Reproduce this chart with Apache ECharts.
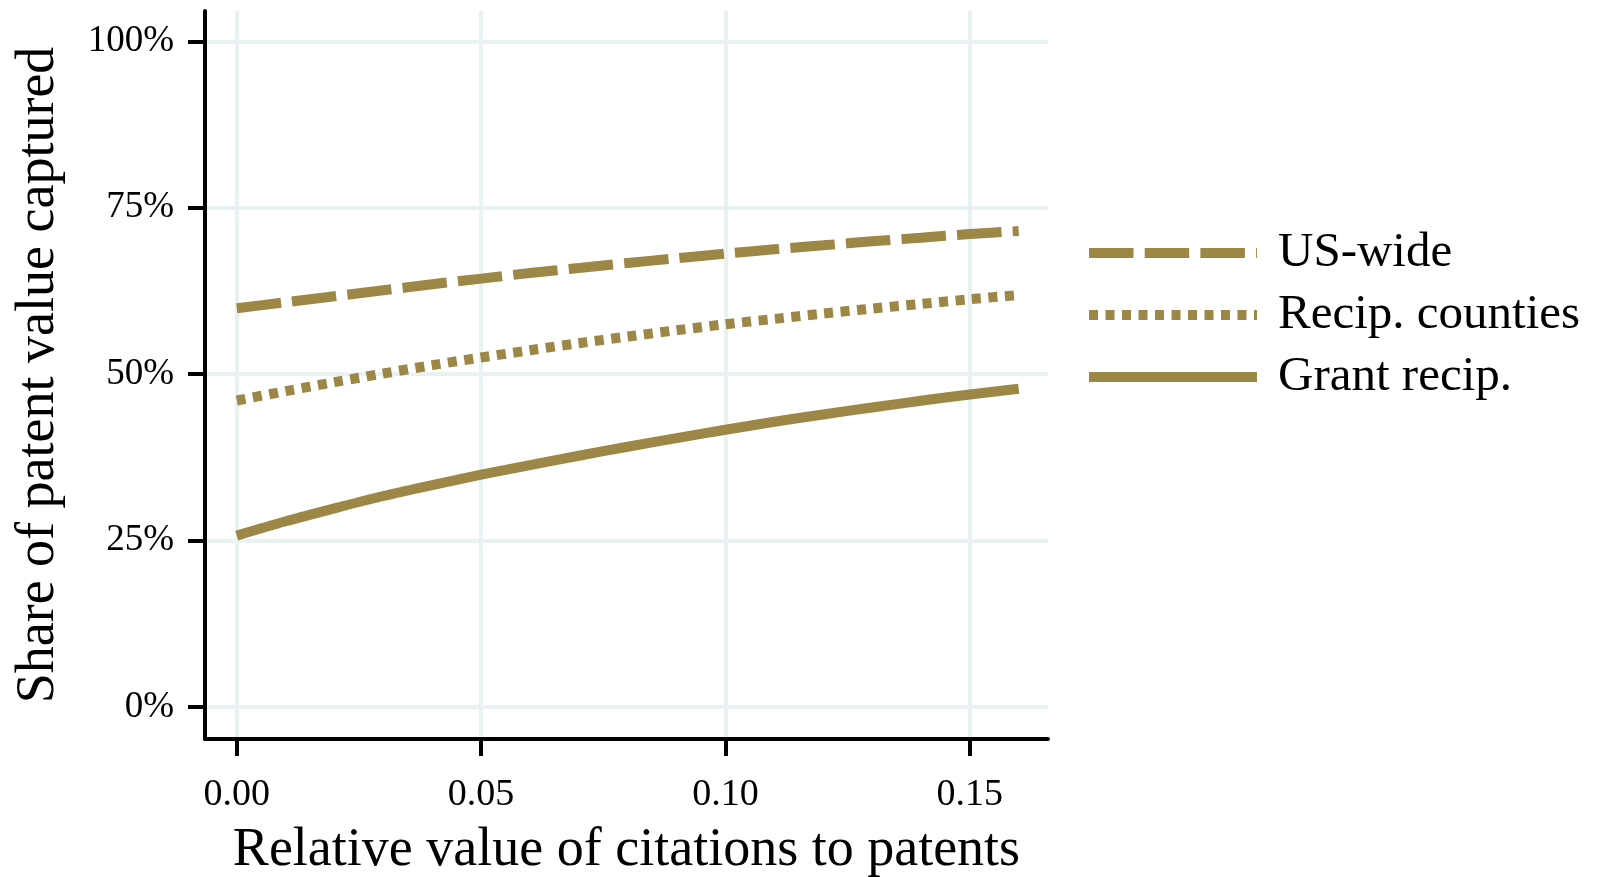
<!DOCTYPE html>
<html>
<head>
<meta charset="utf-8">
<script src="https://cdn.jsdelivr.net/npm/echarts@6/dist/echarts.min.js"></script>
<style>
html,body{margin:0;padding:0;background:#fff;}
#chart{width:1602px;height:877px;}
</style>
</head>
<body>
<div id="chart"></div>
<script>
// Data
var xValues = [0, 0.01, 0.02, 0.03, 0.04, 0.05, 0.06, 0.07, 0.08, 0.09, 0.10, 0.11, 0.12, 0.13, 0.14, 0.15, 0.16];
var usWide = [59.9, 60.8, 61.7, 62.6, 63.5, 64.35, 65.2, 65.95, 66.7, 67.4, 68.1, 68.75, 69.35, 69.95, 70.5, 71.05, 71.5];
var recipCounties = [46.05, 47.45, 48.8, 50.1, 51.35, 52.5, 53.6, 54.65, 55.65, 56.6, 57.5, 58.3, 59.1, 59.85, 60.55, 61.25, 61.9];
var grantRecip = [25.75, 27.9, 29.85, 31.7, 33.35, 34.9, 36.35, 37.75, 39.1, 40.4, 41.65, 42.85, 43.95, 45.0, 46.0, 46.95, 47.8];
var seriesNames = ['US-wide', 'Recip. counties', 'Grant recip.'];
var xTicks = [0, 0.05, 0.10, 0.15];
var yTicks = [0, 25, 50, 75, 100];
var xTitle = 'Relative value of citations to patents';
var yTitle = 'Share of patent value captured';

function pairs(ys) { return xValues.map(function (x, i) { return [x, ys[i]]; }); }

var LINE = '#9c8746';
var GRID = '#eaf1f3';
var FONT = 'Liberation Serif';

var chart = echarts.init(document.getElementById('chart'), null, { renderer: 'canvas' });
chart.setOption({
  animation: false,
  backgroundColor: '#ffffff',
  grid: { left: 205, right: 554, top: 11, bottom: 138, containLabel: false, outerBoundsMode: 'none' },
  xAxis: {
    type: 'value', min: -0.0065, max: 0.166,
    name: xTitle, nameLocation: 'middle', nameGap: 85,
    nameTextStyle: { fontFamily: FONT, fontSize: 54, color: '#000' },
    axisLine: { show: true, onZero: false, lineStyle: { color: '#000', width: 4 } },
    axisTick: { show: true, length: 17, customValues: xTicks, lineStyle: { color: '#000', width: 4 } },
    axisLabel: { customValues: xTicks, margin: 37, fontFamily: FONT, fontSize: 38, color: '#000',
      formatter: function (v) { return v.toFixed(2); } },
    splitLine: { show: true, lineStyle: { color: GRID, width: 4 } }
  },
  yAxis: {
    type: 'value', min: -4.8, max: 104.55,
    name: yTitle, nameLocation: 'middle', nameRotate: 90, nameGap: 139,
    nameTextStyle: { fontFamily: FONT, fontSize: 54, color: '#000' },
    axisLine: { show: true, onZero: false, lineStyle: { color: '#000', width: 4 } },
    axisTick: { show: true, length: 17, customValues: yTicks, lineStyle: { color: '#000', width: 4 } },
    axisLabel: { customValues: yTicks, margin: 31, fontFamily: FONT, fontSize: 37, color: '#000',
      formatter: function (v) { return Math.round(v) + '%'; } },
    splitLine: { show: true, lineStyle: { color: GRID, width: 4 } }
  },
  legend: {
    orient: 'vertical', left: 1084, top: 227, padding: 0,
    itemWidth: 168, itemHeight: 10, itemGap: 10,
    selectedMode: false,
    itemStyle: { opacity: 0 },
    lineStyle: { width: 10 },
    textStyle: { fontFamily: FONT, fontSize: 49, color: '#000', lineHeight: 52, padding: [0, 0, 0, 16] },
    data: seriesNames
  },
  series: [
    { name: seriesNames[0], type: 'line', data: pairs(usWide), smooth: 0.3, symbol: 'none', showSymbol: false,
      lineStyle: { color: LINE, width: 10, type: [44.5, 11.2], cap: 'butt' }, itemStyle: { color: LINE } },
    { name: seriesNames[1], type: 'line', data: pairs(recipCounties), smooth: 0.3, symbol: 'none', showSymbol: false,
      lineStyle: { color: LINE, width: 10, type: [9, 7.5], cap: 'butt' }, itemStyle: { color: LINE } },
    { name: seriesNames[2], type: 'line', data: pairs(grantRecip), smooth: 0.3, symbol: 'none', showSymbol: false,
      lineStyle: { color: LINE, width: 10, type: 'solid', cap: 'butt' }, itemStyle: { color: LINE } }
  ]
});
</script>
</body>
</html>
